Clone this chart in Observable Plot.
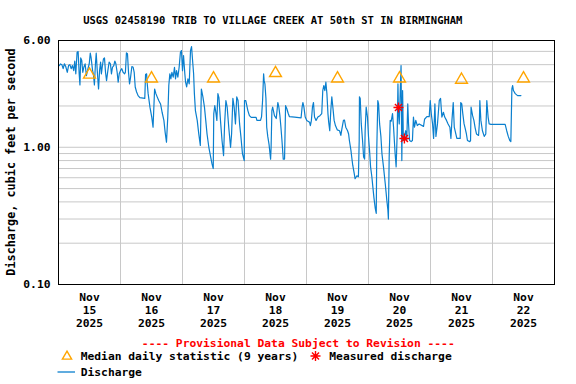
<!DOCTYPE html>
<html><head><meta charset="utf-8">
<script src="https://cdn.jsdelivr.net/npm/d3@7"></script>
<script src="https://cdn.jsdelivr.net/npm/@observablehq/plot@0.6"></script>
<style>
body{margin:0;background:#fff;}
#fig{position:relative;width:576px;height:384px;overflow:hidden;font-family:"DejaVu Sans Mono",monospace;font-weight:bold;color:#000;background:#fff;}
#fig > svg{position:absolute;left:0;top:0;}
.abs{position:absolute;white-space:nowrap;line-height:1;}
</style></head><body><div id="fig"></div>
<script>
// ---- data ----
const chartTitle = "USGS 02458190 TRIB TO VILLAGE CREEK AT 50th ST IN BIRMINGHAM";
const yAxisTitle = "Discharge, cubic feet per second";
const provisionalNote = "---- Provisional Data Subject to Revision ----";
const legendMedian = "Median daily statistic (9 years)";
const legendMeasured = "Measured discharge";
const legendDischarge = "Discharge";

// hours since 2025-11-15 00:00
const hours = [0.3,0.8,1.3,1.8,2.3,2.8,3.4,3.9,4.4,4.9,5.4,5.9,6.3,6.7,7.2,7.6,8.0,8.3,8.6,9.0,9.4,9.8,10.3,10.8,11.4,11.9,12.3,12.6,13.2,13.5,13.9,14.3,14.6,15.0,15.5,15.9,16.3,16.6,17.0,17.4,17.8,18.2,18.6,19.1,19.6,20.1,20.5,20.9,21.4,21.8,22.2,22.7,23.1,23.5,24.0,24.5,25.0,25.6,25.9,26.3,26.7,27.1,27.5,27.9,28.4,28.9,29.3,29.7,30.2,30.8,31.5,33.4,33.7,34.1,34.3,34.7,35.4,36.1,36.6,37.2,37.7,38.2,38.8,39.5,40.1,40.8,41.3,41.8,42.3,42.7,43.1,43.5,43.9,44.4,44.9,45.3,45.7,46.2,46.7,47.2,47.6,48.0,48.4,48.9,49.2,49.6,50.1,50.6,51.1,51.5,51.9,52.3,52.6,53.0,53.7,54.3,54.9,55.3,55.9,56.5,57.0,57.5,58.2,58.8,59.4,59.9,60.1,60.5,60.9,61.3,61.7,62.1,62.7,63.3,63.9,64.3,64.8,65.3,65.9,66.6,67.0,67.5,68.0,68.5,69.0,69.5,70.1,70.6,71.2,71.9,72.0,72.5,73.3,73.9,74.6,76.5,76.8,78.2,78.6,79.0,79.4,79.6,79.9,80.3,80.6,81.0,81.5,82.1,82.3,82.6,82.9,83.6,84.3,84.9,85.3,85.7,86.1,86.5,87.0,87.5,87.9,88.4,88.9,89.4,91.4,93.9,94.3,94.6,95.0,95.5,96.1,97.2,97.5,97.9,98.3,98.7,99.1,99.7,100.4,101.2,101.9,102.3,102.7,103.1,103.5,103.9,104.3,104.6,105.0,105.4,105.8,106.2,106.7,107.2,107.9,108.8,109.3,109.7,110.3,110.7,111.2,111.9,112.3,112.6,113.2,113.5,113.9,114.5,114.8,115.5,116.1,116.4,116.5,116.8,117.2,117.7,118.1,118.5,118.7,119.1,119.6,120.0,120.4,120.8,121.3,121.7,122.1,122.6,123.0,123.2,123.6,123.9,124.3,124.8,125.2,125.8,126.5,127.1,127.5,127.7,128.0,128.4,128.8,129.3,129.7,130.3,130.7,131.1,131.4,131.6,131.9,132.3,132.6,132.9,133.2,133.5,133.9,134.4,134.8,135.2,135.5,135.9,136.5,137.0,137.4,137.8,138.3,138.9,139.6,141.3,141.7,142.6,143.5,143.9,144.3,144.8,145.2,145.7,146.1,146.7,147.4,147.9,148.4,149.0,149.5,150.2,150.8,151.5,151.9,152.3,152.8,153.2,153.8,154.2,155.5,155.7,156.1,156.5,157.0,157.4,157.9,158.3,159.2,159.5,159.7,160.3,160.8,161.3,161.8,162.6,162.9,163.1,163.5,164.1,164.8,165.4,165.8,166.3,166.7,167.4,172.9,173.5,174.1,174.7,175.1,175.5,175.8,176.1,176.8,177.7,179.0];
const discharge = [3.94,4.05,4.0,3.74,4.06,3.88,3.52,3.94,4.0,3.74,3.94,3.62,4.25,3.43,4.93,4.98,3.43,2.85,4.48,4.29,3.52,3.83,4.05,3.33,3.74,4.06,4.85,4.53,3.62,3.43,2.85,4.06,4.85,3.62,2.66,3.62,4.17,3.43,3.94,4.4,4.48,3.52,3.06,3.62,4.17,4.06,3.43,3.83,3.94,4.25,4.06,3.52,2.98,3.43,3.62,3.74,3.52,3.43,3.52,4.88,4.8,3.52,2.9,3.24,3.88,3.83,3.52,2.75,2.54,2.38,2.3,2.27,3.39,3.43,2.98,2.46,1.96,1.66,1.40,2.66,2.46,2.33,2.19,2.07,1.8,1.57,1.28,1.09,1.66,2.82,3.43,3.15,3.52,3.24,3.83,3.15,3.62,3.24,3.83,4.93,5.07,3.62,4.66,3.43,2.98,2.75,3.15,2.9,5.07,5.42,4.29,3.43,2.46,1.85,1.57,1.25,1.03,2.66,2.33,1.96,1.57,1.25,1.0,0.87,0.76,0.70,1.75,2.01,1.8,1.57,2.46,2.3,1.57,1.12,0.87,1.48,2.19,1.96,1.40,1.0,1.25,2.27,1.96,1.48,2.33,2.19,1.48,1.2,0.9,0.8,2.19,2.19,1.85,1.7,1.65,1.65,1.57,1.57,1.67,2.19,3.43,3.06,2.9,2.27,1.40,1.2,1.05,0.82,1.0,1.85,1.96,1.7,1.62,2.12,1.96,1.7,1.40,1.12,0.82,0.82,2.01,1.91,1.77,1.67,1.66,1.64,1.96,2.12,1.96,1.66,1.57,1.52,1.44,1.57,1.96,2.12,1.66,1.57,1.66,1.7,1.76,2.59,2.82,2.59,2.98,2.46,1.76,1.52,1.32,1.85,2.33,1.96,1.57,1.44,1.34,1.32,1.22,1.36,1.57,1.58,1.40,1.32,1.25,1.12,0.95,0.85,0.74,0.64,0.59,0.62,0.61,1.12,2.33,2.27,1.48,1.12,0.85,0.82,1.32,1.96,1.66,1.2,0.95,0.72,0.61,0.51,0.43,0.36,0.33,0.95,2.19,2.07,1.48,1.2,0.9,0.72,0.54,0.41,0.35,0.30,0.85,1.57,1.55,1.76,1.40,0.9,0.72,1.25,2.9,1.76,1.48,2.59,3.94,0.8,2.59,1.12,1.2,1.32,1.12,2.07,1.48,1.12,1.1,1.12,1.66,1.40,1.57,1.44,1.48,1.42,1.6,1.67,1.67,2.19,1.76,1.48,1.16,2.07,1.2,1.48,2.19,2.27,1.66,1.8,1.66,1.57,1.48,1.40,1.16,1.57,2.12,1.40,1.25,1.16,1.16,2.12,2.07,1.76,1.48,1.38,1.25,1.12,1.1,1.12,1.96,1.7,1.57,1.38,1.25,1.22,1.48,2.19,1.57,1.32,1.2,1.25,2.19,1.66,1.48,1.47,1.47,1.32,1.2,1.12,1.1,2.66,2.82,2.59,2.46,2.38,2.38];

const medianHours = [12,36,60,84,108,132,156,180];
const medianValues = [3.38,3.17,3.17,3.47,3.17,3.17,3.1,3.17];
const measuredHours = [131.6,133.9];
const measuredValues = [1.95,1.16];

const monthLabel = "Nov";
const yearLabel = "2025";
const dayLabels = ["15","16","17","18","19","20","21","22"];
const yTickValues = [0.1,1,6];
const yGridValues = [0.2,0.3,0.4,0.5,0.6,0.7,0.8,0.9,1,2,3,4,5];

// ---- build ----
const t0 = Date.UTC(2025,10,15);
const toDate = h => new Date(t0 + h*3600e3);
const flow = hours.map((h,i)=>({t:toDate(h), v:discharge[i]}));
const median = medianHours.map((h,i)=>({t:toDate(h), v:medianValues[i]}));
const measured = measuredHours.map((h,i)=>({t:toDate(h), v:measuredValues[i]}));
const dayNoons = dayLabels.map((d,i)=>toDate(12+24*i));
const midnights = d3.range(1,8).map(i=>toDate(24*i));
const labelOf = new Map(dayNoons.map((d,i)=>[+d, `${monthLabel}\n${dayLabels[i]}\n${yearLabel}`]));

const asterisk8 = {
  draw(ctx, size){
    const r = Math.sqrt(size/Math.PI);
    for(let i=0;i<4;i++){
      const a = i*Math.PI/4, dx=r*Math.cos(a), dy=r*Math.sin(a);
      ctx.moveTo(-dx,-dy); ctx.lineTo(dx,dy);
    }
  }
};

const FONT = "DejaVu Sans Mono";
const blue = "#0a7fce", orange = "#ffa500", red = "#ff0000", grid = "#c8c8c8";

const plot = Plot.plot({
  width:576, height:384,
  marginTop:40, marginBottom:100, marginLeft:58, marginRight:22,
  style:{fontFamily:FONT, fontWeight:"bold", fontSize:"11.3px", background:"transparent"},
  x:{type:"utc", domain:[toDate(0), toDate(192)]},
  y:{type:"log", domain:[0.1,6], axis:null},
  marks:[
    Plot.ruleY(yGridValues,{stroke:grid, strokeWidth:1}),
    Plot.ruleX(midnights,{stroke:grid, strokeWidth:1}),
    Plot.line(flow,{x:"t", y:"v", stroke:blue, strokeWidth:1.2}),
    Plot.dot(median,{x:"t", y:"v", symbol:"triangle", r:4.4, stroke:orange, strokeWidth:1.4, fill:"none"}),
    Plot.dot(measured,{x:"t", y:"v", symbol:asterisk8, r:5, stroke:red, strokeWidth:1.4, fill:"none"}),
    Plot.frame({stroke:"#000", strokeWidth:1}),
    Plot.text(yTickValues,{y:d=>d, frameAnchor:"left", textAnchor:"end", dx:-8, text:d=>d.toFixed(2), fontSize:11.3, fontWeight:"bold", fill:"#000"}),
    Plot.axisX(dayNoons,{tickSize:0, tickPadding:7, tickFormat:d=>labelOf.get(+d), label:null, fontSize:11.3, fontWeight:"bold", lineHeight:1.15, fill:"#000"})
  ]
});
const fig = document.getElementById("fig");
fig.appendChild(plot);

function addText(txt, css){
  const d = document.createElement("div");
  d.className = "abs"; d.textContent = txt;
  Object.assign(d.style, css);
  fig.appendChild(d); return d;
}
addText(chartTitle,{left:"272.8px", top:"15px", fontSize:"10.5px", transform:"translateX(-50%)"});
addText(yAxisTitle,{left:"12px", top:"162px", fontSize:"11.8px", transform:"translate(-50%,-50%) rotate(-90deg)"});
addText(provisionalNote,{left:"298.3px", top:"337.5px", fontSize:"11.3px", color:red, transform:"translateX(-50%)"});
addText(legendMedian,{left:"80.7px", top:"351px", fontSize:"11.3px"});
addText(legendMeasured,{left:"329.3px", top:"351px", fontSize:"11.3px"});
addText(legendDischarge,{left:"80.7px", top:"367px", fontSize:"11.3px"});

// legend symbols
const ns = "http://www.w3.org/2000/svg";
const lg = document.createElementNS(ns,"svg");
lg.setAttribute("width",576); lg.setAttribute("height",384);
lg.style.position="absolute"; lg.style.left="0"; lg.style.top="0"; lg.style.pointerEvents="none";
const tri = d3.symbol(d3.symbolTriangle2, Math.PI*4.4*4.4)();
d3.select(lg).append("path").attr("d",tri).attr("transform","translate(67,356.5)").attr("fill","none").attr("stroke",orange).attr("stroke-width",1.4);
d3.select(lg).append("path").attr("d",d3.symbol(asterisk8, Math.PI*25)()).attr("transform","translate(315.5,356)").attr("fill","none").attr("stroke",red).attr("stroke-width",1.4);
d3.select(lg).append("line").attr("x1",57.5).attr("x2",75).attr("y1",372).attr("y2",372).attr("stroke",blue).attr("stroke-width",1.3);
fig.appendChild(lg);
</script></body></html>
